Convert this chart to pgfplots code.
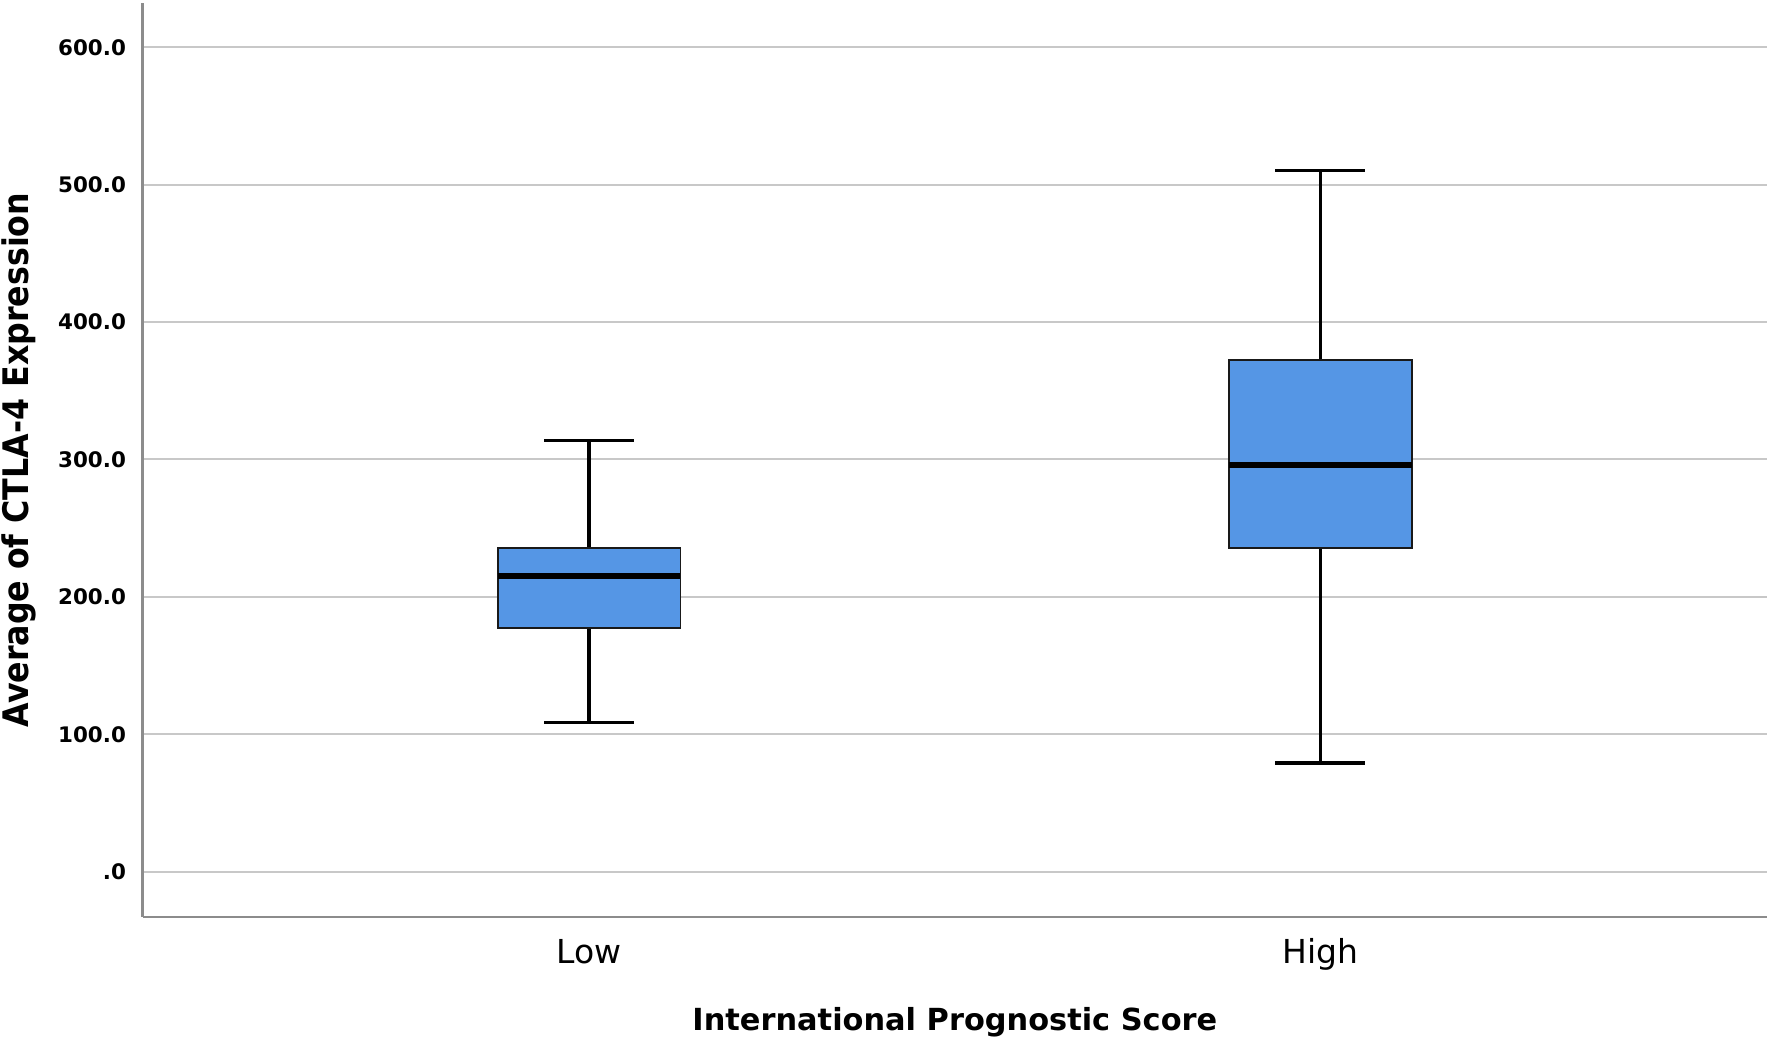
\documentclass[border=0pt]{standalone}
\usepackage{fontspec}
\setmainfont{DejaVu Sans}
\newfontfamily\condfont{DejaVu Sans Condensed}
\usepackage{pgfplots}
\pgfplotsset{compat=1.18}
\usepgfplotslibrary{statistics}
\definecolor{boxblue}{HTML}{5596E5}
\definecolor{gridgray}{HTML}{C8C8C8}
\definecolor{axisgray}{HTML}{8C8C8C}
\begin{document}
\begin{tikzpicture}
\begin{axis}[
  scale only axis,
  width=812.15pt, height=457pt,
  xmin=0.3895, xmax=2.611,
  ymin=-33.05, ymax=632.3,
  axis x line=bottom, axis y line=left,
  axis line style={color=axisgray, line width=1.2pt, -},
  ymajorgrids,
  grid style={color=gridgray, line width=1.0pt},
  major tick length=0pt,
  xtick={1,2},
  xticklabels={Low,High},
  ytick={0,100,200,300,400,500,600},
  yticklabels={{.0},{100.0},{200.0},{300.0},{400.0},{500.0},{600.0}},
  xticklabel style={font=\fontsize{16.5}{18}\selectfont, anchor=base, inner sep=0pt, yshift=-23pt},
  yticklabel style={font=\fontsize{10.7}{12}\selectfont\bfseries, anchor=east, inner sep=0pt, xshift=-8.2pt},
  boxplot/draw direction=y,
  boxplot/every box/.style={draw=black!90, line width=0.9pt, fill=boxblue},
  boxplot/every whisker/.style={draw=black, line width=1.6pt},
  boxplot/every median/.style={draw=black, line width=3pt},
]
\addplot[boxplot prepared={
    lower whisker=108.6, lower quartile=177.4, median=215.4,
    upper quartile=235.3, upper whisker=314,
    draw position=1, box extend=0.25, whisker extend=0.123},
  draw=black, line width=1.6pt, mark=none] coordinates {};
\addplot[boxplot prepared={
    lower whisker=79.0, lower quartile=235.8, median=296.1,
    upper quartile=372.3, upper whisker=510.3,
    draw position=2, box extend=0.25, whisker extend=0.123},
  draw=black, line width=1.6pt, mark=none] coordinates {};
\end{axis}
\node[rotate=90, anchor=base, font=\condfont\fontsize{17.6}{19}\selectfont\bfseries] at (-57.3pt,228.5pt) {Average of CTLA-4 Expression};
\node[anchor=base, font=\fontsize{15.2}{17}\selectfont\bfseries] at (406.075pt,-56.5pt) {International Prognostic Score};
\pgfresetboundingbox
\path (-71.35pt,-61.5pt) rectangle (813.65pt,458.5pt);
\end{tikzpicture}
\end{document}
